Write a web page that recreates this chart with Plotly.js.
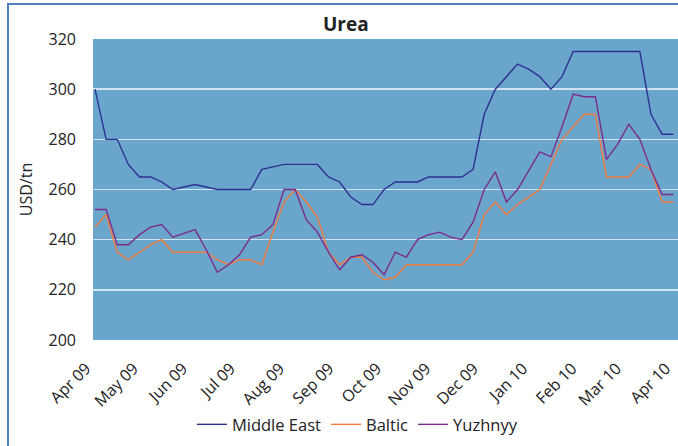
<!DOCTYPE html>
<html>
<head>
<meta charset="utf-8">
<script src="https://cdn.plot.ly/plotly-3.0.1.min.js"></script>
<style>
  html, body { margin: 0; padding: 0; background: #ffffff; }
  #wrap { position: relative; width: 678px; height: 446px; overflow: hidden; }
  #chart { position: absolute; left: 0; top: 0; width: 678px; height: 446px; }
  #frame { position: absolute; left: 7px; top: 3px; width: 680px; height: 450px;
           border-left: 2px solid #4f81bd; border-top: 2px solid #4f81bd; pointer-events: none; }
</style>
</head>
<body>
<div id="wrap">
  <div id="chart"></div>
  <div id="frame"></div>
</div>
<script>
// Weekly observation dates
const dates = [
  "2009-04-01","2009-04-08","2009-04-15","2009-04-22","2009-04-29",
  "2009-05-06","2009-05-13","2009-05-20","2009-05-27",
  "2009-06-03","2009-06-10","2009-06-17","2009-06-24",
  "2009-07-01","2009-07-08","2009-07-15","2009-07-22","2009-07-29",
  "2009-08-05","2009-08-12","2009-08-19","2009-08-26",
  "2009-09-02","2009-09-09","2009-09-16","2009-09-23","2009-09-30",
  "2009-10-07","2009-10-14","2009-10-21","2009-10-28",
  "2009-11-04","2009-11-11","2009-11-18","2009-11-25",
  "2009-12-02","2009-12-09","2009-12-16","2009-12-23","2009-12-30",
  "2010-01-06","2010-01-13","2010-01-20","2010-01-27",
  "2010-02-03","2010-02-10","2010-02-17","2010-02-24",
  "2010-03-03","2010-03-10","2010-03-17","2010-03-24","2010-03-31"
];

// USD/tn
const middleEast = [300,280,280,270,265,265,263,260,261,262,261,260,260,260,260,268,269,270,270,270,270,265,263,257,254,254,260,263,263,263,265,265,265,265,268,290,300,305,310,308,305,300,305,315,315,315,315,315,315,315,290,282,282];
const baltic     = [245,250,235,232,235,238,240,235,235,235,235,232,230,232,232,230,243,255,260,255,249,235,230,233,233,227,224,225,230,230,230,230,230,230,235,250,255,250,254,257,260,270,280,285,290,290,265,265,265,270,268,255,255];
const yuzhnyy    = [252,252,238,238,242,245,246,241,242.5,244,236,227,230,234,241,242,246,260,260,248,243,235,228,233,234,231,226,235,233,240,242,243,241,240,247,260,267,255,260,267.5,275,273,285,298,297,297,272,278,286,280,268,258,258];

// Month tick positions and labels
const tickDates = ["2009-04-01","2009-05-01","2009-06-01","2009-07-01","2009-08-01","2009-09-01","2009-10-01","2009-11-01","2009-12-01","2010-01-01","2010-02-01","2010-03-01","2010-04-01"];
const tickLabels = ["Apr 09","May 09","Jun 09","Jul 09","Aug 09","Sep 09","Oct 09","Nov 09","Dec 09","Jan 10","Feb 10","Mar 10","Apr 10"];

const seriesNames = ["Middle East","Baltic","Yuzhnyy"];
const seriesColors = ["#2e3192","#f47b3c","#7b2c8e"];
const seriesData = [middleEast, baltic, yuzhnyy];

const font = "'Open Sans', 'Noto Sans', sans-serif";

const traces = seriesData.map((ys, k) => ({
  type: "scatter",
  mode: "lines",
  x: dates,
  y: ys,
  name: seriesNames[k],
  line: { color: seriesColors[k], width: 1.4 },
  hoverinfo: "skip"
}));

const layout = {
  width: 678,
  height: 446,
  margin: { l: 93, r: 0, t: 39, b: 106 },
  paper_bgcolor: "#ffffff",
  plot_bgcolor: "#6aa6cc",
  font: { family: font, size: 16, color: "#222222" },
  title: {
    text: "<b>Urea</b>",
    font: { family: font, size: 19, color: "#222222" },
    x: 0.51, xref: "container", xanchor: "center",
    y: 0.945, yref: "container", yanchor: "middle"
  },
  xaxis: {
    type: "date",
    range: ["2009-03-30 18:00", "2010-04-03 00:00"],
    tickmode: "array",
    tickvals: tickDates,
    ticktext: tickLabels,
    tickangle: -45,
    showgrid: false,
    zeroline: false,
    showline: false,
    ticks: "",
    ticklabelstandoff: 15,
    ticklabelshift: -9,
    ticklabeloverflow: "allow",
    tickfont: { family: font, size: 16, color: "#222222" }
  },
  yaxis: {
    range: [200, 320],
    tickmode: "linear",
    tick0: 200,
    dtick: 20,
    showgrid: true,
    gridcolor: "#cfe3f2",
    gridwidth: 1.5,
    zeroline: false,
    showline: false,
    ticks: "",
    ticklabelstandoff: 16,
    tickfont: { family: font, size: 16, color: "#222222" },
    title: { text: "USD/tn", font: { family: font, size: 16, color: "#222222" }, standoff: 11 }
  },
  showlegend: true,
  legend: {
    orientation: "h",
    x: 0.452, xanchor: "center",
    y: -0.223, yanchor: "top",
    font: { family: font, size: 16.5, color: "#222222" },
    bgcolor: "rgba(0,0,0,0)",
    itemwidth: 30,
    tracegroupgap: 0
  }
};

Plotly.newPlot("chart", traces, layout, { displayModeBar: false, staticPlot: true });
</script>
</body>
</html>
